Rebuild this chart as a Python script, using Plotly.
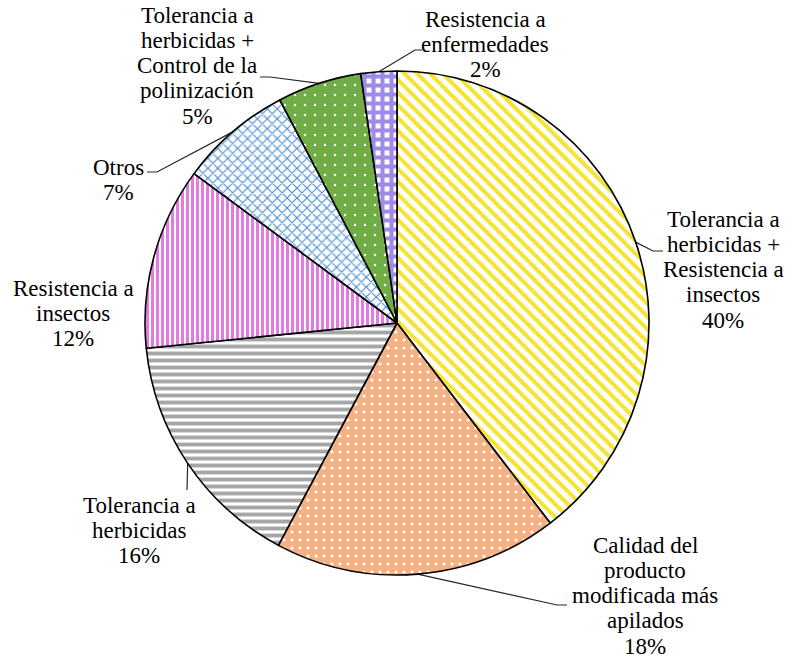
import math
import plotly.graph_objects as go

# ---------------- data ----------------
categories = [
    "Tolerancia a herbicidas + Resistencia a insectos",
    "Calidad del producto modificada más apilados",
    "Tolerancia a herbicidas",
    "Resistencia a insectos",
    "Otros",
    "Tolerancia a herbicidas + Control de la polinización",
    "Resistencia a enfermedades",
]
values = [39.6, 18.2, 15.6, 11.7, 7.2, 5.4, 2.3]
label_lines = [
    ["Tolerancia a", "herbicidas +", "Resistencia a", "insectos"],
    ["Calidad del", "producto", "modificada más", "apilados"],
    ["Tolerancia a", "herbicidas"],
    ["Resistencia a", "insectos"],
    ["Otros"],
    ["Tolerancia a", "herbicidas +", "Control de la", "polinización"],
    ["Resistencia a", "enfermedades"],
]

# ---------------- styles / layout ----------------
W, H = 785, 660
CX, CY, R = 397, 323, 252
FONT = "'Liberation Serif', 'DejaVu Serif', serif"
FONT_SIZE = 23
LINE_GAP = 25.3

pat_shape = ["\\", ".", "-", "|", "x", ".", "+"]
pat_fg = ["#F4E330", "#FFFFFF", "#A6A6A6", "#E27BE2", "#4A8CD3", "#FFFFFF", "#A08AE8"]
pat_bg = ["#FFFFFF", "#F4B183", "#FFFFFF", "#FFFFFF", "#FFFFFF", "#70AD47", "#FFFFFF"]
pat_size = [9, 8, 7, 5, 7, 10, 9]
pat_sol = [0.45, 0.12, 0.55, 0.6, 0.3, 0.05, 0.7]

label_pos = [(723, 219), (645, 545), (139, 505), (73, 288), (118, 167), (197, 15), (485, 19)]
leader_pts = [
    [(653, 251), (663, 251)],
    [(557, 605), (567, 605)],
    [(187, 490)],
    [],
    [(157, 172), (147, 172)],
    [(270, 77), (260, 77)],
    [(415, 50), (422, 50)],
]

fig = go.Figure()

fig.add_trace(go.Pie(
    labels=categories,
    values=values,
    sort=False,
    direction="clockwise",
    rotation=0,
    textinfo="none",
    hoverinfo="label+percent",
    showlegend=False,
    domain=dict(x=[(CX - R) / W, (CX + R) / W], y=[1 - (CY + R) / H, 1 - (CY - R) / H]),
    marker=dict(
        colors=pat_bg,
        line=dict(color="#000000", width=1.6),
        pattern=dict(shape=pat_shape, fgcolor=pat_fg, bgcolor=pat_bg,
                     size=pat_size, solidity=pat_sol, fillmode="replace"),
    ),
))

# leader lines from slice mid-angle on the rim
total = sum(values)
lx, ly = [], []
cum = 0.0
for v, pts in zip(values, leader_pts):
    theta = 2 * math.pi * (cum + v / 2) / total
    cum += v
    if not pts:
        continue
    ex = CX + R * math.sin(theta)
    ey = CY - R * math.cos(theta)
    lx += [ex] + [p[0] for p in pts] + [None]
    ly += [ey] + [p[1] for p in pts] + [None]

fig.add_trace(go.Scatter(x=lx, y=ly, mode="lines", line=dict(color="#262626", width=1.2),
                         hoverinfo="skip", showlegend=False))

annotations = []
for v, lines, (px, py) in zip(values, label_lines, label_pos):
    pct = f"{round(v / total * 100)}%"
    for j, t in enumerate(lines + [pct]):
        annotations.append(dict(
            x=px, y=py + j * LINE_GAP, xref="x", yref="y", text=t, showarrow=False,
            xanchor="center", yanchor="middle",
            font=dict(family=FONT, size=FONT_SIZE, color="#000000"),
        ))

fig.update_layout(
    width=W, height=H,
    margin=dict(l=0, r=0, t=0, b=0),
    paper_bgcolor="white", plot_bgcolor="rgba(0,0,0,0)",
    font=dict(family=FONT),
    xaxis=dict(range=[0, W], visible=False, fixedrange=True),
    yaxis=dict(range=[H, 0], visible=False, fixedrange=True),
    annotations=annotations,
)

fig.write_html("out.html", config={"displayModeBar": False},
               post_script="document.body.style.margin='0';document.body.style.overflow='hidden';")
